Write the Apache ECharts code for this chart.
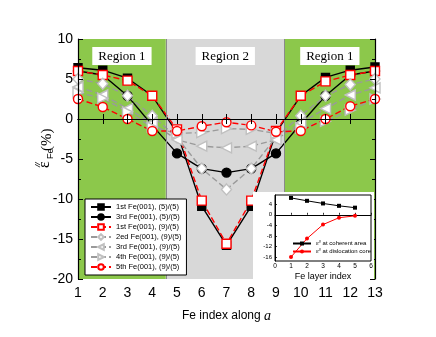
<!DOCTYPE html>
<html><head><meta charset="utf-8">
<script src="https://cdn.jsdelivr.net/npm/echarts@6/dist/echarts.min.js"></script>
<style>html,body{margin:0;padding:0;background:#fff}#c{width:436px;height:337px}</style>
</head><body><div id="c"></div>
<script>
// ---------- data ----------
const feIndex = [1,2,3,4,5,6,7,8,9,10,11,12,13];
const first55  = [6.4, 6.1, 5.1, 2.9, -1.7, -10.9, -15.8, -10.9, -1.7, 2.9, 5.2, 6.1, 6.5];
const third55  = [6.0, 5.5, 2.9, -0.8, -4.3, -6.2, -6.7, -6.2, -4.3, -0.6, 2.9, 5.5, 6.0];
const first95  = [6.0, 5.5, 4.8, 2.9, -1.3, -10.2, -15.6, -10.2, -1.5, 2.9, 4.7, 5.5, 6.0];
const second95 = [5.0, 4.4, 2.9, 0.4, -2.3, -6.2, -8.8, -6.2, -2.3, 0.4, 2.9, 4.3, 5.0];
const third95  = [4.0, 3.0, 1.3, -0.5, -2.6, -3.4, -3.6, -3.4, -2.6, -0.5, 1.3, 3.0, 3.9];
const fourth95 = [3.3, 2.6, 0.9, -1.0, -1.8, -1.7, -1.2, -1.3, -1.8, -1.1, -0.3, 1.1, 2.5];
const fifth95  = [2.5, 1.5, 0.0, -1.5, -1.5, -0.9, -0.4, -0.8, -1.6, -1.5, 0.0, 1.6, 2.5];
const seriesNames = ['1st Fe(001), (5)/(5)','3rd Fe(001), (5)/(5)','1st Fe(001), (9)/(5)','2ed Fe(001), (9)/(5)','3rd Fe(001), (9)/(5)','4th Fe(001), (9)/(5)','5th Fe(001), (9)/(5)'];
const regionBounds = [1, 4.55, 9.35, 13];
const regionNames = ['Region 1','Region 2','Region 1'];
// inset
const layerIndex = [1,2,3,4,5];
const coherent = [6.4, 5.3, 4.3, 3.4, 2.7];
const core = [-16.0, -9.0, -3.7, -1.1, -0.4];
const insetYTicks = [-16,-12,-8,-4,0,4];

const pairs = (xs, ys) => xs.map((x,i)=>[x, ys[i]]);
const GREEN = '#8cc84b', GRAY = '#d8d8d8', RED = '#ff0000', LG = '#9a9a9a';

function mk(name, vals, o){
  return {
    name, type:'line', data: pairs(feIndex, vals), clip:false,
    xAxisIndex:0, yAxisIndex:0,
    symbol:o.symbol, symbolSize:o.size, symbolRotate:o.rot||0,
    lineStyle:{color:o.line, width:1.4, type:o.dash?[6,3]:'solid'},
    itemStyle:{color:o.fill, borderColor:o.border, borderWidth:o.bw||1.4},
    emphasis:{disabled:true}, z:3
  };
}

const series = [
  mk(seriesNames[0], first55, {symbol:'rect', size:8, line:'#000', fill:'#000', border:'#000'}),
  mk(seriesNames[1], third55, {symbol:'circle', size:9, line:'#000', fill:'#000', border:'#000'}),
  mk(seriesNames[2], first95, {symbol:'rect', size:9, line:RED, fill:'#fff', border:RED, dash:true}),
  mk(seriesNames[3], second95, {symbol:'diamond', size:[10,11], line:LG, fill:'#fff', border:'#c0c0c0', dash:true}),
  mk(seriesNames[4], third95, {symbol:'triangle', size:10, rot:90, line:LG, fill:'#fff', border:'#c0c0c0', dash:true}),
  mk(seriesNames[5], fourth95, {symbol:'triangle', size:10, rot:-90, line:LG, fill:'#fff', border:'#c0c0c0', dash:true}),
  mk(seriesNames[6], fifth95, {symbol:'circle', size:9, line:RED, fill:'#fff', border:RED, dash:true})
];
// background regions + zero line + region boundaries
series.unshift({
  type:'line', data:[], xAxisIndex:0, yAxisIndex:0, silent:true, z:1,
  markArea:{silent:true,
    label:{show:true, position:'insideTop', distance:8, color:'#000', fontFamily:'Liberation Serif', fontSize:13, backgroundColor:'#fff', padding:[3,6,2,6]},
    data: regionNames.map((n,i)=>[{name:n, xAxis:regionBounds[i], itemStyle:{color: i===1?GRAY:GREEN}}, {xAxis:regionBounds[i+1]}])
  },
  markLine:{silent:true, symbol:'none', label:{show:false},
    data:[
      {yAxis:0, lineStyle:{color:'#333', type:[2,2], width:1}},
      {xAxis:regionBounds[1], lineStyle:{color:'#8a8a8a', type:'solid', width:1}},
      {xAxis:regionBounds[2], lineStyle:{color:'#8a8a8a', type:'solid', width:1}}
    ]}
});
// inset
series.push({
  name:'coh', type:'line', data:pairs(layerIndex, coherent), xAxisIndex:2, yAxisIndex:2,
  symbol:'rect', symbolSize:4, lineStyle:{color:'#000', width:1}, itemStyle:{color:'#000'}, z:62, emphasis:{disabled:true},
  markLine:{silent:true, symbol:'none', label:{show:false}, lineStyle:{color:'#555', type:[1.5,1.5], width:0.8}, data:[[{coord:[0.2,0]},{coord:[5.5,0]}]]}
});
series.push({
  name:'core', type:'line', data:pairs(layerIndex, core), xAxisIndex:2, yAxisIndex:2,
  symbol:'circle', symbolSize:4, lineStyle:{color:RED, width:1}, itemStyle:{color:RED}, z:62, emphasis:{disabled:true}
});

const axisBase = {axisLine:{show:true, lineStyle:{color:'#000', width:1.2}}, splitLine:{show:false}};
const chart = echarts.init(document.getElementById('c'), null, {renderer:'canvas'});
chart.setOption({
  animation:false,
  backgroundColor:'#fff',
  grid:[
    {left:78, right:61, top:39, bottom:58},
    {left:275, right:65, top:195, bottom:76, show:true, backgroundColor:'#fff', borderColor:'#000', borderWidth:1, z:55}
  ],
  xAxis:[
    Object.assign({}, axisBase, {type:'value', gridIndex:0, min:1, max:13, interval:1, z:20,
      axisTick:{inside:true, length:5, lineStyle:{color:'#000'}},
      axisLabel:{color:'#000', fontFamily:'Liberation Sans', fontSize:14, margin:7},
      name:'{n|Fe index along }{i|a}', nameLocation:'middle', nameGap:30,
      nameTextStyle:{rich:{n:{fontFamily:'Liberation Sans', fontSize:12, color:'#000'}, i:{fontFamily:'Liberation Serif', fontStyle:'italic', fontSize:14, color:'#000'}}}}),
    Object.assign({}, axisBase, {type:'value', gridIndex:0, position:'top', min:1, max:13, interval:1, z:20,
      axisTick:{inside:true, length:5, lineStyle:{color:'#000'}}, axisLabel:{show:false}}),
    Object.assign({}, axisBase, {type:'value', gridIndex:1, min:0, max:6, interval:1, z:60,
      axisLine:{lineStyle:{color:'#000', width:1}},
      axisTick:{inside:true, length:2, lineStyle:{color:'#000', width:0.8}},
      axisLabel:{color:'#000', fontFamily:'Liberation Sans', fontSize:6.5, margin:2},
      name:'Fe layer index', nameLocation:'middle', nameGap:11,
      nameTextStyle:{fontFamily:'Liberation Sans', fontSize:9, color:'#000'}})
  ],
  yAxis:[
    Object.assign({}, axisBase, {type:'value', gridIndex:0, min:-20, max:10, interval:5, z:20,
      axisTick:{inside:true, length:5, lineStyle:{color:'#000'}},
      minorTick:{show:true, splitNumber:2, length:3, lineStyle:{color:'#000'}},
      axisLabel:{color:'#000', fontFamily:'Liberation Sans', fontSize:14, margin:5}}),
    Object.assign({}, axisBase, {type:'value', gridIndex:0, position:'right', min:-20, max:10, interval:5, z:20,
      axisTick:{inside:true, length:5, lineStyle:{color:'#000'}},
      minorTick:{show:true, splitNumber:2, length:3, lineStyle:{color:'#000'}},
      axisLabel:{show:false}}),
    Object.assign({}, axisBase, {type:'value', gridIndex:1, min:-17.5, max:7.5, z:60,
      axisLine:{lineStyle:{color:'#000', width:1}},
      axisTick:{inside:true, length:2, customValues:insetYTicks, lineStyle:{color:'#000', width:0.8}},
      axisLabel:{color:'#000', fontFamily:'Liberation Sans', fontSize:6, margin:3, customValues:insetYTicks}})
  ],
  legend:[
    {data:seriesNames, orient:'vertical', left:85, top:199, itemWidth:20, itemHeight:7, itemGap:0,
     padding:[3,5,3,5], backgroundColor:'#fff', borderColor:'#000', borderWidth:1, z:30,
     textStyle:{fontFamily:'Liberation Sans', fontSize:7.5, color:'#000', lineHeight:10}, selectedMode:false},
    {data:['coh','core'], orient:'vertical', left:292, top:240, itemWidth:18, itemHeight:5, itemGap:1, z:70,
     padding:0, selectedMode:false,
     formatter: n => n==='coh' ? '{e|ε}{s|//}{t| at coherent area}' : '{e|ε}{s|//}{t| at dislocation core}',
     textStyle:{color:'#000', rich:{e:{fontFamily:'Liberation Serif', fontSize:6.5}, s:{fontFamily:'Liberation Sans', fontSize:4, verticalAlign:'top'}, t:{fontFamily:'Liberation Sans', fontSize:6}}}}
  ],
  graphic:[
    {type:'rect', shape:{x:253, y:192, width:121, height:87}, style:{fill:'#fff'}, z:50, silent:true},
    {type:'group', x:51, y:168, rotation:Math.PI/2, silent:true, z:30, children:[
      {type:'text', x:0, y:-6, style:{text:'ε', font:'16px "Liberation Serif"', fill:'#000', verticalAlign:'middle', align:'left'}},
      {type:'text', x:1, y:-13, style:{text:'//', font:'italic 8px "Liberation Sans"', fill:'#000', verticalAlign:'middle', align:'left'}},
      {type:'text', x:9, y:0, style:{text:'Fe', font:'9px "Liberation Sans"', fill:'#000', verticalAlign:'middle', align:'left'}},
      {type:'text', x:17, y:-4, style:{text:'(%)', font:'15px "Liberation Serif"', fill:'#000', verticalAlign:'middle', align:'left'}}
    ]},
    {type:'group', x:263, y:240, rotation:Math.PI/2, silent:true, z:70, children:[
      {type:'text', x:0, y:-2, style:{text:'ε', font:'7px "Liberation Serif"', fill:'#000', verticalAlign:'middle', align:'left'}},
      {type:'text', x:1, y:-5, style:{text:'//', font:'4px "Liberation Sans"', fill:'#000', verticalAlign:'middle', align:'left'}},
      {type:'text', x:4, y:1, style:{text:'Fe', font:'4.5px "Liberation Sans"', fill:'#000', verticalAlign:'middle', align:'left'}},
      {type:'text', x:9, y:-1.5, style:{text:'(%)', font:'6px "Liberation Sans"', fill:'#000', verticalAlign:'middle', align:'left'}}
    ]}
  ],
  series
});
</script></body></html>
